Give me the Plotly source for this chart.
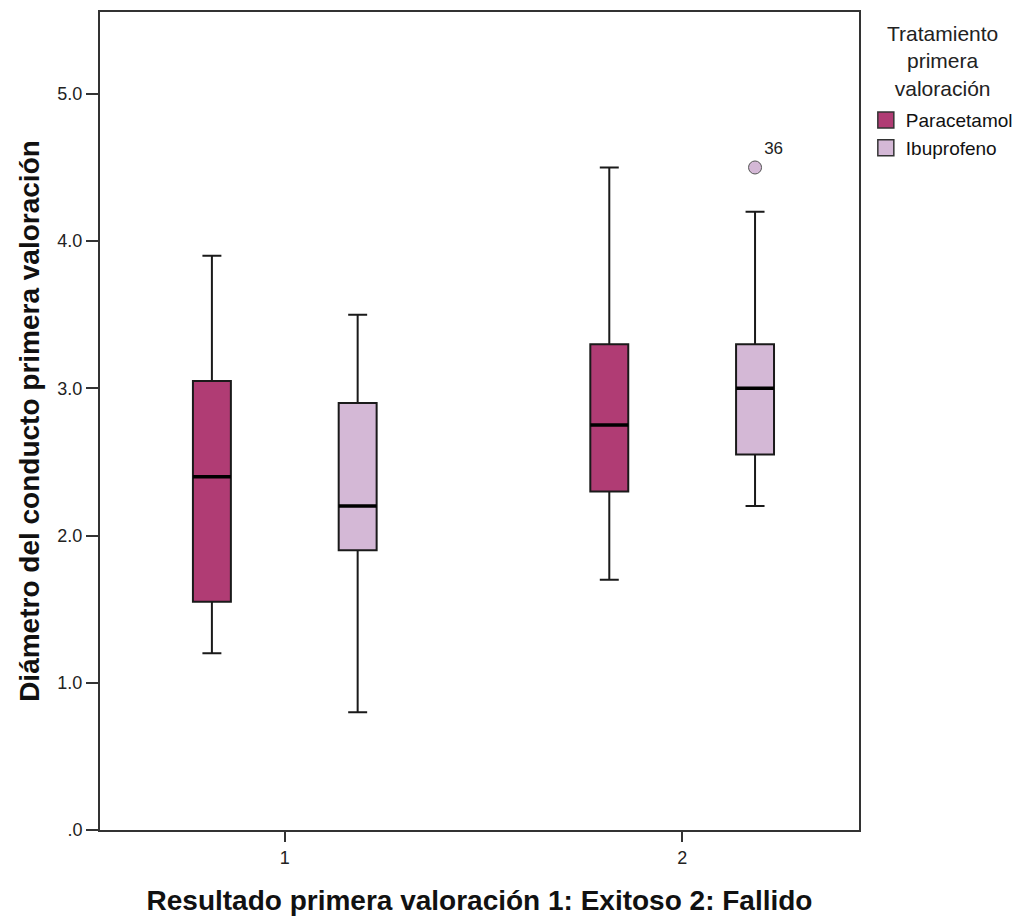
import plotly.graph_objects as go

# ---- data ----
categories = [1, 2]
tick_labels_x = ["1", "2"]
series_names = ["Paracetamol", "Ibuprofeno"]

para_low = [1.20, 1.70]
para_q1 = [1.55, 2.30]
para_med = [2.40, 2.75]
para_q3 = [3.05, 3.30]
para_high = [3.90, 4.50]

ibu_low = [0.80, 2.20]
ibu_q1 = [1.90, 2.55]
ibu_med = [2.20, 3.00]
ibu_q3 = [2.90, 3.30]
ibu_high = [3.50, 4.20]

outlier_cat = [2]
outlier_val = [4.50]
outlier_label = ["36"]

y_tickvals = [0, 1, 2, 3, 4, 5]
y_ticktext = [".0", "1.0", "2.0", "3.0", "4.0", "5.0"]

legend_title = "Tratamiento<br>primera<br>valoración"

# ---- style ----
OFFSET = 0.1834
BOXW = 0.0955
colors = ["#B03C74", "#D4B8D6"]
FONT = "Liberation Sans, Arial"

fig = go.Figure()

stats = [
    (para_low, para_q1, para_med, para_q3, para_high),
    (ibu_low, ibu_q1, ibu_med, ibu_q3, ibu_high),
]
signs = [-1, 1]

for name, col, st, s in zip(series_names, colors, stats, signs):
    lo, q1, med, q3, hi = st
    xs = [c + s * OFFSET for c in categories]
    fig.add_trace(go.Box(
        x=xs, q1=q1, median=med, q3=q3, lowerfence=lo, upperfence=hi,
        name=name, fillcolor=col, width=BOXW, whiskerwidth=0.5,
        line=dict(color="#1a1a1a", width=2), boxpoints=False,
        hoverinfo="skip", showlegend=False,
    ))
    # thick median lines
    mx, my = [], []
    for x, m in zip(xs, med):
        mx += [x - BOXW / 2, x + BOXW / 2, None]
        my += [m, m, None]
    fig.add_trace(go.Scatter(
        x=mx, y=my, mode="lines", line=dict(color="black", width=3.5),
        showlegend=False, hoverinfo="skip",
    ))

# outlier
fig.add_trace(go.Scatter(
    x=[c + OFFSET for c in outlier_cat], y=outlier_val, mode="markers+text",
    text=outlier_label, textposition="top right",
    textfont=dict(family=FONT, size=17, color="#222"),
    marker=dict(symbol="circle", size=13, color=colors[1],
                line=dict(color="#555", width=1)),
    showlegend=False, hoverinfo="skip",
))

# legend entries (square swatches)
for name, col in zip(series_names, colors):
    fig.add_trace(go.Scatter(
        x=[None], y=[None], mode="markers", name=name,
        marker=dict(symbol="square", size=16, color=col,
                    line=dict(color="#333", width=1.5)),
    ))

fig.update_layout(
    width=1012, height=913,
    margin=dict(l=92, r=160, t=2, b=91),
    plot_bgcolor="white", paper_bgcolor="white",
    font=dict(family=FONT, color="#222"),
    legend=dict(
        x=1.009, y=0.891, xanchor="left", yanchor="top",
        font=dict(family=FONT, size=19, color="#111"),
        itemwidth=30, itemsizing="trace",
    ),
    showlegend=True,
    annotations=[dict(
        text=legend_title, xref="paper", yref="paper",
        x=1.0 + (936 - 852) / 760, y=0.99, xanchor="center", yanchor="top",
        align="center", showarrow=False,
        font=dict(family=FONT, size=21, color="#222"),
    )],
)

fig.update_xaxes(
    range=[0.535, 2.445], tickvals=categories, ticktext=tick_labels_x,
    showgrid=False, zeroline=False, showline=True, mirror=True,
    linecolor="#333", linewidth=2, ticks="outside", ticklen=10,
    tickwidth=1.5, tickcolor="#333",
    tickfont=dict(family=FONT, size=18, color="#222"),
    title=dict(text="<b>Resultado primera valoración 1: Exitoso 2: Fallido</b>",
               font=dict(family=FONT, size=28, color="#111"), standoff=24),
)
fig.update_yaxes(
    range=[0, 5.556], tickvals=y_tickvals, ticktext=y_ticktext,
    showgrid=False, zeroline=False, showline=True, mirror=True,
    linecolor="#333", linewidth=2, ticks="outside", ticklen=12,
    tickwidth=1.5, tickcolor="#333",
    tickfont=dict(family=FONT, size=18, color="#222"),
    title=dict(text="<b>Diámetro del conducto primera valoración</b>",
               font=dict(family=FONT, size=28, color="#111"), standoff=10),
)

fig.write_html("out.html")
